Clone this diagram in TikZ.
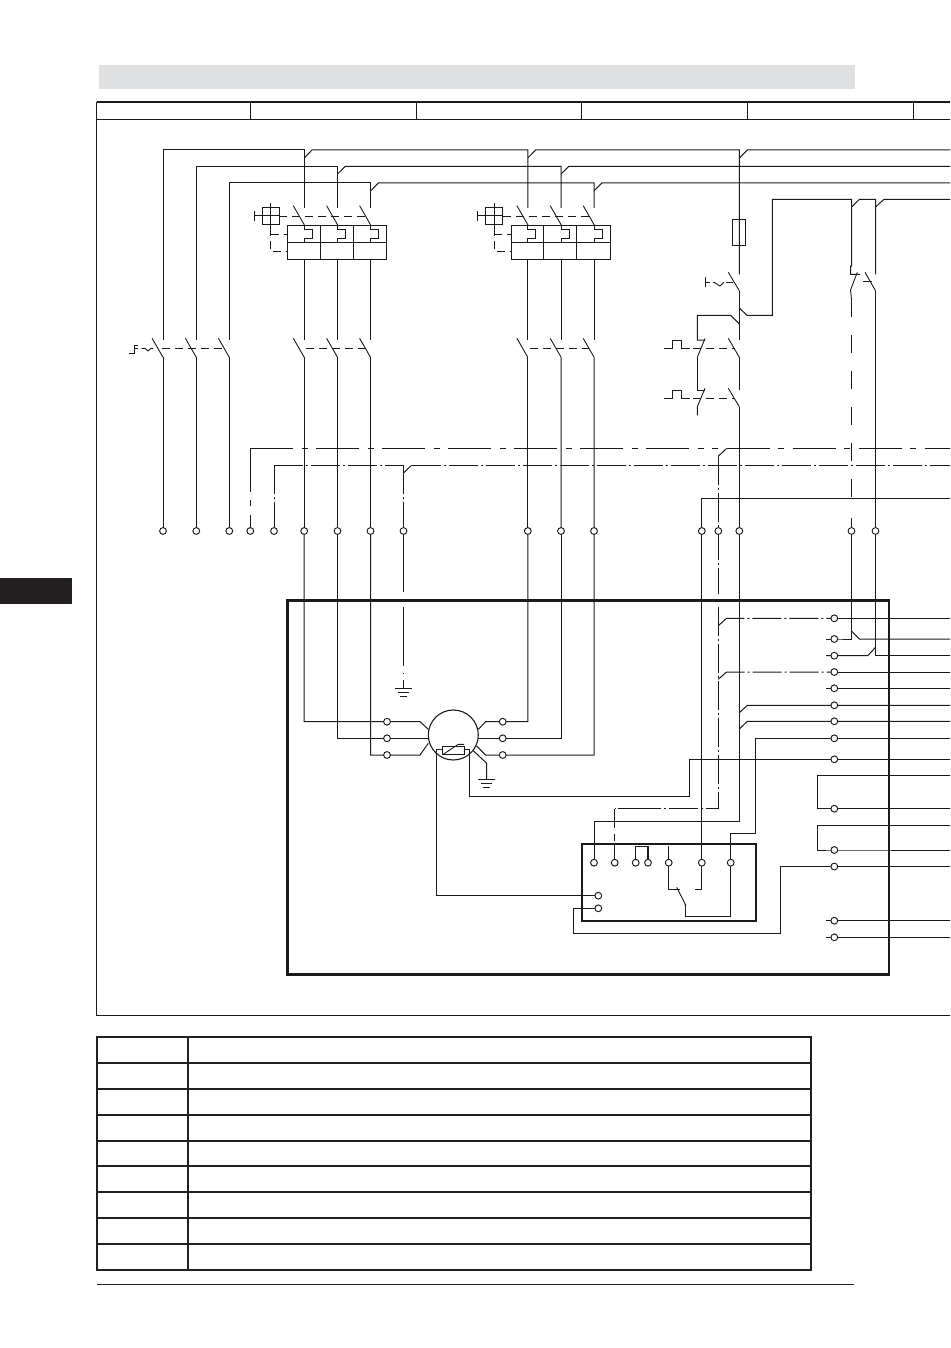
\documentclass[tikz,border=0pt]{standalone}
\pgfdeclarelayer{bg}
\pgfsetlayers{bg,main}
\definecolor{ink}{HTML}{1A1A1A}
\definecolor{barc}{HTML}{DFE0E2}
\definecolor{tabc}{HTML}{231F20}
\tikzset{
  wire/.style={line width=1pt,draw=ink,line join=miter},
  blade/.style={line width=.9pt,draw=ink},
  mech/.style={line width=.9pt,draw=ink,dash pattern=on 8pt off 5pt},
  longdd/.style={wire,dash pattern=on 43pt off 8.5pt on 6pt off 8.5pt},
  shortdd/.style={wire,dash pattern=on 29pt off 3pt on 2pt off 3pt},
  longdash/.style={wire,dash pattern=on 17.5pt off 18.5pt},
  term/.style={circle,draw=ink,fill=white,line width=.95pt,inner sep=0pt,minimum size=6.8pt},
  motor/.style={circle,draw=ink,line width=1.1pt,inner sep=0pt,minimum size=50pt},
  heavy/.style={line width=2.8pt,draw=ink},
  medium/.style={line width=2pt,draw=ink},
  tablerule/.style={line width=1.8pt,draw=tabc},
}
\newcommand{\gnd}[2]{%
  \draw[wire] (#1-8.7,#2) -- (#1+8.7,#2);
  \draw[wire] (#1-5.7,#2+4) -- (#1+5.7,#2+4);
  \draw[wire] (#1-3.4,#2+8) -- (#1+3.4,#2+8);
}
\begin{document}
\begin{tikzpicture}[x=1pt,y=-1pt]
\useasboundingbox (0,0) rectangle (950,1348);
% page furniture
\fill[barc] (98.5,65) rectangle (855,89);
\fill[tabc] (0,578) rectangle (72,603.5);
\draw[line width=1.3pt,draw=ink] (96.5,102) -- (950,102);
\draw[wire] (96.5,119.5) -- (950,119.5);
\draw[line width=.8pt,draw=ink] (96.5,102) -- (96.5,1015.5) -- (950,1015.5);
\foreach \x in {250.3,416.4,581.5,747.5,913.5} \draw[wire] (\x,102) -- (\x,119.5);
% table
\draw[tablerule] (97,1037) rectangle (811,1270);
\foreach \y in {1063,1089,1115,1141,1166,1192,1218,1244} \draw[tablerule] (97,\y) -- (811,\y);
\draw[tablerule] (188,1037) -- (188,1270);
\draw[line width=1pt,draw=tabc] (97,1284.7) -- (854,1284.7);
% enclosures
\draw[heavy] (287.5,600.5) rectangle (889,974.5);
\draw[medium] (581.7,844) rectangle (755.7,920.7);
% terminals
\foreach \x/\n in {163/T163,196.3/T196,229.3/T229,250.3/T250,274/T274,304.2/T304,337.5/T337,370.5/T370,403.5/T403,527.8/T527,561/T561,594/T594,701.8/T702,718.3/T718,739.3/T739,851.5/T851,875.5/T875}
  \node[term] (\n) at (\x,531) {};
\foreach \y/\n in {721.7/1,738.3/2,755/3} {
  \node[term] (ML\n) at (387,\y) {};
  \node[term] (MR\n) at (502.7,\y) {};
}
\foreach \y/\n in {618.3/1,639/2,655.7/3,672/4,688.3/5,705.3/6,721.3/7,738.3/8,759.3/9,808.7/10,850/11,866.5/12,920.7/13,937.3/14}
  \node[term] (R\n) at (834.3,\y) {};
\foreach \x/\n in {594/1,614.7/2,635.7/3,648/4,668.7/5,701.8/6,730.7/7}
  \node[term] (B\n) at (\x,862.7) {};
\node[term] (C1) at (598.3,895.7) {};
\node[term] (C2) at (598.3,908.3) {};
\node[motor] (M) at (453.3,735) {};
\begin{pgfonlayer}{bg}
% main buses
\draw[wire] (163,340) |- (304.2,150) -- (304.2,208);
\draw[wire] (196.3,340) |- (337.5,166.3) -- (337.5,208);
\draw[wire] (229.3,340) |- (370.5,183) -- (370.5,208);
\draw[wire] (304.2,158) -- (312,150) -- (527.8,150) -- (527.8,208);
\draw[wire] (337.5,174) -- (345.3,166.3) -- (561,166.3) -- (561,208);
\draw[wire] (370.5,191) -- (378.3,183) -- (594,183) -- (594,208);
\draw[wire] (527.8,158) -- (535.6,150) -- (739.3,150) -- (739.3,274.3);
\draw[wire] (739.3,158) -- (747.3,150) -- (950,150);
\draw[wire] (561,174) -- (568.8,166.3) -- (950,166.3);
\draw[wire] (594,191) -- (601.8,183) -- (950,183);
% left isolator
\foreach \x/\n in {163/T163,196.3/T196,229.3/T229} {
  \draw[blade] (\x-10.9,338.3) -- (\x,357.3);
  \draw[wire] (\x,357.3) -- (\n.center);
}
\draw[wire] (129.3,353.3) -- (134,353.3) -- (134,345) -- (138.3,345);
\draw[wire] (134,348.3) -- (138,348.3);
\draw[blade] (141.7,348.3) -- (145,348.3) -- (148,351) -- (151,348.3) -- (153,348.3);
\draw[mech] (161.7,348.3) -- (225,348.3);
% breakers and contactors
\foreach \dx/\a/\b/\c in {0/T304/T337/T370,223.6/T527/T561/T594} {
  \begin{scope}[shift={(\dx,0)}]
    \foreach \x in {304.2,337.5,370.5} {
      \draw[blade] (\x-10.9,205.7) -- (\x,224.7) -- (\x,226);
      \draw[wire] (\x,226) -- (\x,230) -- (\x+8,230) -- (\x+8,238.7) -- (\x,238.7) -- (\x,242.3);
      \draw[wire] (\x,259.3) -- (\x,340);
      \draw[blade] (\x-10.9,338.3) -- (\x,357.3);
    }
    \draw[wire] (287.5,226) rectangle (386.7,259.3);
    \draw[wire] (287.5,242.3) -- (386.7,242.3);
    \draw[wire] (320.3,226) -- (320.3,259.3);
    \draw[wire] (353.3,226) -- (353.3,259.3);
    \draw[wire] (262.3,207.3) rectangle (279.3,224.3);
    \draw[wire] (270.7,203.3) -- (270.7,228.3);
    \draw[wire] (254.3,216) -- (279.3,216);
    \draw[wire] (254.3,211) -- (254.3,221);
    \draw[mech] (279.3,216) -- (365,216);
    \draw[mech] (270.7,228.3) -- (270.7,251.7) -- (287.3,251.7);
    \draw[mech] (270.7,234.3) -- (287.3,234.3);
    \draw[mech] (306,348.3) -- (365,348.3);
  \end{scope}
  \draw[wire] (304.2+\dx,357.3) -- (\a.center);
  \draw[wire] (337.5+\dx,357.3) -- (\b.center);
  \draw[wire] (370.5+\dx,357.3) -- (\c.center);
}
% control branch
\draw[wire] (732.3,220) rectangle (745.7,245.3);
\draw[blade] (728.3,272.3) -- (739.3,290.7);
\draw[wire] (739.3,290.7) -- (739.3,340);
\draw[wire] (705.3,277) -- (705.3,287);
\draw[blade,dash pattern=on 5pt off 3pt] (705.3,282.3) -- (714,282.3);
\draw[blade] (714,282.3) -- (720,286) -- (724,282.3);
\draw[blade] (726,282.3) -- (733,282.3);
\draw[wire] (739.3,308) -- (747,315.3) -- (772.3,315.3) -- (772.3,199.3) -- (851.5,199.3) -- (851.5,266) -- (850.5,266) -- (850.5,274.3) -- (860,274.3);
\draw[blade] (857.3,272.3) -- (850.5,290) -- (851.5,299.3);
\draw[wire] (851.5,207) -- (859.5,199.3) -- (875.5,199.3) -- (875.5,274.3);
\draw[wire] (875.5,207) -- (884,199.3) -- (950,199.3);
\draw[blade] (865,272.3) -- (875.5,290.7);
\draw[blade] (863.3,281.5) -- (871.7,281.5);
\draw[wire] (739.3,324) -- (730.7,315.3) -- (697.3,315.3) -- (697.3,340) -- (705,340);
\draw[blade] (705,338.5) -- (697.3,357.3);
\draw[wire] (697.3,357.3) -- (697.3,390) -- (705,390);
\draw[blade] (705,388.3) -- (697.3,406.7) -- (697.3,415.3);
\draw[blade] (728.3,338.3) -- (739.3,357.3);
\draw[wire] (739.3,357.3) -- (739.3,390);
\draw[blade] (728.3,388.3) -- (739.3,406.7);
\draw[wire] (739.3,406.7) -- (T739.center);
\draw[wire] (664,348.3) -- (672.7,348.3) -- (672.7,340.5) -- (681.7,340.5) -- (681.7,348.3) -- (690,348.3);
\draw[wire] (664,398.3) -- (672.7,398.3) -- (672.7,390.3) -- (681.7,390.3) -- (681.7,398.3) -- (690,398.3);
\draw[mech] (693,348.3) -- (735,348.3);
\draw[mech] (693,398.3) -- (735,398.3);
\draw[wire] (875.5,290.7) -- (T875.center);
\draw[longdash] (851.5,299.3) -- (851.5,500);
\draw[wire] (851.5,518.3) -- (T851.center);
% dash-dot signal buses
\draw[longdd] (250.3,448.5) -- (718.3,448.5);
\draw[longdd] (250.3,448.5) -- (T250.center);
\draw[shortdd] (274,465.3) -- (403.5,465.3);
\draw[shortdd] (274,465.3) -- (T274.center);
\draw[shortdd] (403.5,465.3) -- (T403.center);
\draw[wire] (403.5,473) -- (411.5,465.3);
\draw[shortdd] (411.5,465.3) -- (950,465.3);
\draw[longdd] (726.5,448.5) -- (950,448.5);
\draw[wire] (718.3,456.3) -- (726.5,448.5);
\draw[shortdd] (718.3,456.3) -- (T718.center);
\draw[wire] (T403.center) -- (403.5,591.7);
\draw[wire] (403.5,607.3) -- (403.5,666);
\draw[wire] (403.5,672.5) -- (403.5,674);
\draw[wire] (403.5,680) -- (403.5,688.3);
\gnd{403.5}{688.3}
% x=702 and x=718 drops
\draw[wire] (950,498.3) -- (701.8,498.3) -- (T702.center);
\draw[wire] (T702.center) -- (B6.center);
\draw[shortdd] (T718.center) -- (718.3,594);
\draw[shortdd] (718.3,606.7) -- (718.3,808.7) -- (638.3,808.7);
\draw[wire] (643.3,808.7) -- (645,808.7);
\draw[shortdd] (647.3,808.7) -- (614.7,808.7);
\draw[wire] (614.7,808.7) -- (614.7,827.5);
\draw[wire] (614.7,833.5) -- (614.7,841);
\draw[wire] (614.7,845) -- (B2.center);
% motor windings
\draw[wire] (T304.center) |- (ML1.center) -- (420,721.7) -- (428.3,729.3);
\draw[wire] (T337.center) |- (ML2.center) -- (428.3,738.3);
\draw[wire] (T370.center) |- (ML3.center) -- (420,755) -- (428.3,743.3);
\draw[wire] (T527.center) |- (MR1.center) -- (485.7,721.7) -- (478.3,729.3);
\draw[wire] (T561.center) |- (MR2.center) -- (478.3,738.3);
\draw[wire] (T594.center) |- (MR3.center) -- (485.7,755) -- (476.7,746);
\draw[wire] (442.3,746) rectangle (464,754);
\draw[blade] (443.3,754.3) -- (458.3,744.3) -- (464,744.3);
\draw[wire] (442.3,749.3) -- (436.7,749.3) |- (C1.center);
\draw[wire] (464,749.3) -- (469.3,749.3) -- (469.3,796.3) -- (689.3,796.3) -- (689.3,759.3) -- (R9.center) -- (950,759.3);
\draw[wire] (473.3,750.7) -- (486.7,763.3) -- (486.7,779);
\gnd{486.7}{779}
% right terminal strip
\draw[shortdd] (718.3,625.7) -- (726.5,618.3) -- (R1.center);
\draw[wire] (R1.center) -- (950,618.3);
\draw[wire] (T851.center) |- (R2.center) -- (826,639);
\draw[wire] (851.5,631) -- (859.3,639) -- (950,639);
\draw[wire] (T875.center) |- (950,655.5);
\draw[wire] (875.5,647.3) -- (867.7,655.7) -- (R3.center) -- (826,655.7);
\draw[shortdd] (718.3,679.3) -- (726.5,672) -- (R4.center);
\draw[wire] (R4.center) -- (950,672);
\draw[wire] (826,688.3) -- (R5.center) -- (950,688.3);
\draw[wire] (T739.center) |- (B1.center |- 0,821.3) -- (B1.center);
\draw[wire] (739.3,712.7) -- (747.3,705.3) -- (R6.center) -- (950,705.3);
\draw[wire] (739.3,729) -- (747.3,721.3) -- (R7.center) -- (950,721.3);
\draw[wire] (950,738.3) -- (R8.center) -- (755.3,738.3) -- (755.3,833.3) -- (730.7,833.3) -- (B7.center);
\draw[wire] (950,775) -- (817.3,775) -- (817.3,808.7) -- (R10.center) -- (950,808.7);
\draw[wire] (950,825.3) -- (817.3,825.3) -- (817.3,850) -- (R11.center) -- (950,850);
\draw[wire] (C2.center) -- (573.3,908.3) -- (573.3,933.3) -- (780.3,933.3) -- (780.3,866.5) -- (R12.center) -- (950,866.5);
\draw[wire] (826,920.7) -- (R13.center) -- (950,920.7);
\draw[wire] (826,937.3) -- (R14.center) -- (950,937.3);
% control box internals
\draw[wire] (B3.center) |- (B4.center |- 0,846.2);
\draw[line width=1.5pt,draw=ink] (648,846.2) -- (B4.center);
\draw[wire] (668.7,846.3) -- (B5.center) -- (668.7,889.3) -- (680,889.3);
\draw[wire] (B6.center) -- (701.8,889.3) -- (695,889.3);
\draw[wire] (B7.center) -- (730.7,916) -- (685.7,916) -- (685.7,905);
\draw[blade] (676.7,887.3) -- (685.7,905);
\fill[ink] (685.3,905) circle (1pt);
\end{pgfonlayer}
\end{tikzpicture}
\end{document}
